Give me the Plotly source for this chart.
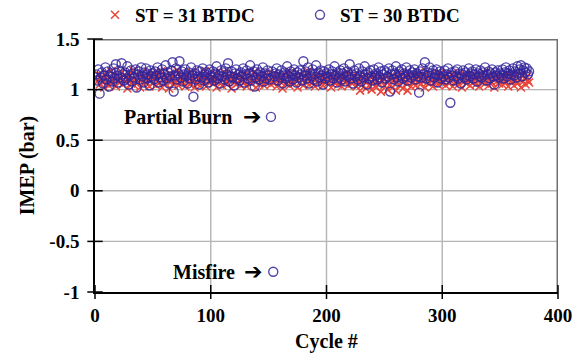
import plotly.graph_objects as go

# ---------------- data ----------------
st31_imep = [
    1.12, 1.08, 1.15, 1.05, 1.10, 1.13, 1.07, 1.02, 1.11, 1.16, 1.09, 1.04, 1.12, 1.18, 1.06, 1.10, 1.14, 1.03, 1.09, 1.13, 1.07, 1.11, 1.17, 1.05, 1.10,
    1.08, 1.13, 1.01, 1.12, 1.15, 1.06, 1.10, 1.19, 1.04, 1.09, 1.14, 1.07, 1.11, 1.02, 1.16, 1.10, 1.05, 1.13, 1.08, 1.12, 1.17, 1.03, 1.09, 1.14, 1.06,
    1.11, 1.15, 1.04, 1.09, 1.13, 1.07, 1.18, 1.02, 1.10, 1.12, 1.06, 1.14, 1.09, 1.01, 1.16, 1.08, 1.11, 1.05, 1.13, 1.10, 1.19, 1.04, 1.08, 1.12, 1.15,
    1.07, 1.10, 1.03, 1.14, 1.09, 1.12, 1.05, 1.17, 1.08, 1.11, 1.02, 1.13, 1.06, 1.10, 1.15, 1.04, 1.09, 1.12, 1.07, 1.18, 1.03, 1.11, 1.14, 1.08, 1.10,
    1.13, 1.06, 1.09, 1.16, 1.02, 1.11, 1.07, 1.14, 1.10, 1.04, 1.12, 1.17, 1.08, 1.05, 1.13, 1.09, 1.11, 1.01, 1.15, 1.07, 1.10, 1.14, 1.06, 1.12, 1.09,
    1.04, 1.13, 1.10, 1.07, 1.16, 1.03, 1.11, 1.08, 1.14, 1.06, 1.12, 1.09, 1.18, 1.02, 1.10, 1.13, 1.05, 1.11, 1.08, 1.15, 1.04, 1.12, 1.07, 1.10, 1.14,
    1.09, 1.05, 1.12, 1.16, 1.07, 1.11, 1.03, 1.14, 1.10, 1.08, 1.13, 1.01, 1.09, 1.15, 1.06, 1.12, 1.10, 1.04, 1.17, 1.08, 1.11, 1.06, 1.13, 1.09, 1.02,
    1.12, 1.07, 1.15, 1.10, 1.04, 1.13, 1.08, 1.11, 1.18, 1.05, 1.09, 1.14, 1.07, 1.12, 1.03, 1.10, 1.16, 1.06, 1.11, 1.09, 1.13, 1.04, 1.08, 1.15, 1.10,
    1.06, 1.11, 1.14, 1.02, 1.09, 1.13, 1.07, 1.10, 1.16, 1.05, 1.12, 1.08, 1.03, 1.14, 1.10, 1.07, 1.12, 1.17, 1.04, 1.09, 1.11, 1.06, 1.13, 1.08, 1.15,
    1.03, 1.10, 1.07, 0.99, 1.12, 1.05, 1.09, 1.14, 1.01, 1.08, 1.11, 1.04, 1.13, 1.00, 1.07, 1.10, 1.15, 1.02, 1.09, 1.06, 1.12, 0.98, 1.08, 1.11, 1.04,
    1.13, 1.07, 1.00, 1.10, 1.05, 1.14, 1.02, 1.09, 1.12, 0.99, 1.07, 1.11, 1.04, 1.16, 1.08, 1.01, 1.10, 1.13, 1.06, 0.99, 1.09, 1.12, 1.03, 1.15, 1.07,
    1.10, 1.04, 1.13, 1.08, 1.17, 1.05, 1.11, 1.09, 1.14, 1.02, 1.10, 1.07, 1.12, 1.06, 1.15, 1.09, 1.03, 1.11, 1.08, 1.13, 1.05, 1.10, 1.16, 1.07, 1.12,
    1.08, 1.14, 1.04, 1.10, 1.12, 1.06, 1.09, 1.15, 1.03, 1.11, 1.07, 1.13, 1.09, 1.05, 1.16, 1.10, 1.02, 1.12, 1.08, 1.14, 1.06, 1.11, 1.09, 1.04, 1.13,
    1.10, 1.07, 1.15, 1.05, 1.12, 1.09, 1.03, 1.14, 1.08, 1.11, 1.17, 1.06, 1.10, 1.13, 1.04, 1.09, 1.12, 1.07, 1.15, 1.02, 1.11, 1.08, 1.13, 1.06, 1.10,
    1.14, 1.05, 1.09, 1.12, 1.07, 1.16, 1.03, 1.10, 1.13, 1.08, 1.11, 1.04, 1.15, 1.09, 1.06, 1.12, 1.10, 1.02, 1.14, 1.08, 1.11, 1.05, 1.13, 1.09, 1.07,
]

st30_imep = [
    1.15, 1.09, 1.20, 0.96, 1.12, 1.17, 1.06, 1.14, 1.22, 1.10, 1.18, 1.03, 1.13, 1.16, 1.08, 1.21, 1.11, 1.25, 1.14, 1.07, 1.19, 1.12, 1.26, 1.15, 1.09,
    1.17, 1.11, 1.23, 1.05, 1.14, 1.19, 1.08, 1.16, 1.12, 1.20, 1.02, 1.15, 1.18, 1.10, 1.22, 1.13, 1.07, 1.17, 1.21, 1.11, 1.15, 1.04, 1.19, 1.13, 1.16,
    1.10, 1.18, 1.14, 1.22, 1.07, 1.16, 1.12, 1.20, 1.09, 1.15, 1.24, 1.11, 1.17, 1.06, 1.13, 1.19, 1.27, 0.98, 1.14, 1.21, 1.10, 1.16, 1.28, 1.12, 1.18,
    1.08, 1.15, 1.20, 1.13, 1.06, 1.17, 1.11, 1.22, 1.14, 0.93, 1.16, 1.10, 1.19, 1.13, 1.05, 1.18, 1.12, 1.21, 1.09, 1.15, 1.17, 1.11, 1.07, 1.20, 1.14,
    1.12, 1.18, 1.09, 1.16, 1.23, 1.11, 1.14, 1.06, 1.19, 1.13, 1.17, 1.10, 1.21, 1.15, 1.26, 1.08, 1.13, 1.18, 1.12, 1.04, 1.16, 1.20, 1.11, 1.15, 1.09,
    1.17, 1.13, 1.21, 1.07, 1.15, 1.19, 1.11, 1.16, 1.24, 1.09, 1.14, 1.18, 1.03, 1.12, 1.20, 1.15, 1.10, 1.17, 1.13, 1.22, 1.08, 1.16, 1.11, 1.19, 1.14,
    1.10, 0.73, 1.18, -0.80, 1.13, 1.16, 1.21, 1.09, 1.15, 1.12, 1.19, 1.06, 1.14, 1.17, 1.11, 1.23, 1.13, 1.08, 1.18, 1.15, 1.10, 1.20, 1.14, 1.07, 1.17,
    1.12, 1.19, 1.15, 1.09, 1.28, 1.14, 1.18, 1.11, 1.22, 1.06, 1.16, 1.13, 1.20, 1.10, 1.15, 1.24, 1.08, 1.17, 1.12, 1.19, 1.14, 1.05, 1.18, 1.11, 1.16,
    1.13, 1.20, 1.09, 1.15, 1.18, 1.11, 1.23, 1.14, 1.07, 1.17, 1.12, 1.19, 1.10, 1.16, 1.21, 1.08, 1.14, 1.18, 1.13, 1.25, 1.11, 1.15, 1.06, 1.19, 1.13,
    1.16, 1.10, 1.21, 1.14, 1.08, 1.18, 1.12, 1.23, 1.15, 1.05, 1.17, 1.11, 1.19, 1.13, 1.09, 1.20, 1.14, 1.16, 1.10, 1.22, 1.12, 1.18, 1.07, 1.15, 1.19,
    1.11, 1.17, 1.13, 1.21, 0.98, 1.15, 1.19, 1.10, 1.16, 1.23, 1.12, 1.08, 1.18, 1.14, 1.20, 1.11, 1.16, 1.13, 1.22, 1.09, 1.15, 1.19, 1.12, 1.17, 1.14,
    1.20, 1.10, 1.16, 1.13, 0.97, 1.18, 1.12, 1.21, 1.15, 1.27, 1.11, 1.17, 1.14, 1.22, 1.09, 1.16, 1.19, 1.12, 1.15, 1.20, 1.07, 1.14, 1.18, 1.11, 1.16,
    1.13, 1.19, 1.10, 1.15, 1.21, 1.12, 0.87, 1.17, 1.14, 1.09, 1.18, 1.13, 1.20, 1.11, 1.16, 1.06, 1.15, 1.19, 1.12, 1.17, 1.10, 1.14, 1.21, 1.13, 1.16,
    1.18, 1.11, 1.15, 1.20, 1.08, 1.16, 1.13, 1.19, 1.12, 1.17, 1.14, 1.22, 1.09, 1.15, 1.18, 1.11, 1.16, 1.20, 1.13, 1.05, 1.17, 1.14, 1.19, 1.12, 1.16,
    1.14, 1.20, 1.11, 1.17, 1.22, 1.13, 1.16, 1.19, 1.10, 1.15, 1.21, 1.14, 1.18, 1.12, 1.23, 1.16, 1.20, 1.24, 1.13, 1.19, 1.22, 1.17, 1.21, 1.15, 1.18,
]

cycles_31 = list(range(1, len(st31_imep) + 1))
cycles_30 = list(range(1, len(st30_imep) + 1))

series_names = ["ST = 31 BTDC", "ST = 30 BTDC"]

x_range = [0, 400]
y_range = [-1, 1.5]
x_tickvals = [0, 100, 200, 300, 400]
x_ticktext = ["0", "100", "200", "300", "400"]
y_tickvals = [-1, -0.5, 0, 0.5, 1, 1.5]
y_ticktext = ["-1", "-0.5", "0", "0.5", "1", "1.5"]

# annotation anchors (cycle, IMEP)
partial_burn = (152, 0.73)
misfire = (154, -0.80)

# ---------------- figure ----------------
FONT = "Liberation Serif"
RED = "#e8463a"
BLUE = "#33249a"
GRID = "#b4b4b4"
FRAME = "#707070"

fig = go.Figure()

# light grid lines at the tick positions (drawn below the data)
for v in x_tickvals[1:-1]:
    fig.add_trace(go.Scatter(x=[v, v], y=y_range, mode="lines", showlegend=False,
                             hoverinfo="skip", line=dict(color=GRID, width=1.4)))
for v in y_tickvals[1:-1]:
    fig.add_trace(go.Scatter(x=x_range, y=[v, v], mode="lines", showlegend=False,
                             hoverinfo="skip", line=dict(color=GRID, width=1.4)))

fig.add_trace(go.Scatter(
    x=cycles_31, y=st31_imep, mode="markers", name="<b>" + series_names[0] + "</b>",
    marker=dict(symbol="x-thin-open", size=8, line=dict(color=RED, width=1.5), color=RED),
))
fig.add_trace(go.Scatter(
    x=cycles_30, y=st30_imep, mode="markers", name="<b>" + series_names[1] + "</b>",
    marker=dict(symbol="circle-open", size=9, line=dict(color=BLUE, width=1.4), color=BLUE,
                opacity=0.85),
))

# grey frame along the top and right of the plotting area
fig.add_trace(go.Scatter(x=[x_range[0], x_range[1], x_range[1]],
                         y=[y_range[1], y_range[1], y_range[0]],
                         mode="lines", showlegend=False, hoverinfo="skip",
                         line=dict(color=FRAME, width=3)))

# tick marks crossing the axes
fig.add_trace(go.Scatter(x=x_tickvals, y=[y_range[0]] * len(x_tickvals), mode="markers",
                         showlegend=False, hoverinfo="skip", cliponaxis=False,
                         marker=dict(symbol="line-ns", size=10,
                                     line=dict(color="black", width=1.5))))
fig.add_trace(go.Scatter(x=[x_range[0]] * len(y_tickvals), y=y_tickvals, mode="markers",
                         showlegend=False, hoverinfo="skip", cliponaxis=False,
                         marker=dict(symbol="line-ew", size=11,
                                     line=dict(color="black", width=1.5))))

ann_font = dict(family=FONT, size=20, color="black")
arrow_font = dict(family="DejaVu Sans", size=22, color="black")
fig.add_annotation(x=partial_burn[0] - 32, y=partial_burn[1], text="<b>Partial Burn</b>",
                   showarrow=False, xanchor="right", yanchor="middle", font=ann_font)
fig.add_annotation(x=partial_burn[0] - 7, y=partial_burn[1], text="➔",
                   showarrow=False, xanchor="right", yanchor="middle", font=arrow_font)
fig.add_annotation(x=misfire[0] - 31, y=misfire[1], text="<b>Misfire</b>",
                   showarrow=False, xanchor="right", yanchor="middle", font=ann_font)
fig.add_annotation(x=misfire[0] - 8, y=misfire[1], text="➔",
                   showarrow=False, xanchor="right", yanchor="middle", font=arrow_font)

fig.update_layout(
    width=576, height=357,
    margin=dict(l=95, r=18, t=39, b=65, autoexpand=False),
    paper_bgcolor="white", plot_bgcolor="white",
    font=dict(family=FONT, color="black"),
    showlegend=True,
    legend=dict(orientation="h", x=0.0, xanchor="left", y=1.095, yanchor="middle",
                font=dict(family=FONT, size=19, color="black"),
                entrywidth=160, entrywidthmode="pixels", itemwidth=30,
                bgcolor="rgba(0,0,0,0)"),
    xaxis=dict(range=x_range, tickmode="array", tickvals=x_tickvals,
               ticktext=["<b>" + t + "</b>" for t in x_ticktext],
               showgrid=False,
               showline=True, linecolor="black", linewidth=1.5,
               ticks="outside", ticklen=5, tickcolor="rgba(0,0,0,0)",
               tickfont=dict(family=FONT, size=19, color="black"),
               zeroline=False,
               title=dict(text="<b>Cycle #</b>", font=dict(family=FONT, size=20, color="black"),
                          standoff=9)),
    yaxis=dict(range=y_range, tickmode="array", tickvals=y_tickvals,
               ticktext=["<b>" + t + "</b>" for t in y_ticktext],
               showgrid=False,
               showline=True, linecolor="black", linewidth=1.5,
               ticks="outside", ticklen=10, tickcolor="rgba(0,0,0,0)",
               tickfont=dict(family=FONT, size=19, color="black"),
               zeroline=False,
               title=dict(text="<b>IMEP (bar)</b>", font=dict(family=FONT, size=20, color="black"),
                          standoff=9)),
)

fig.write_html("out.html")
